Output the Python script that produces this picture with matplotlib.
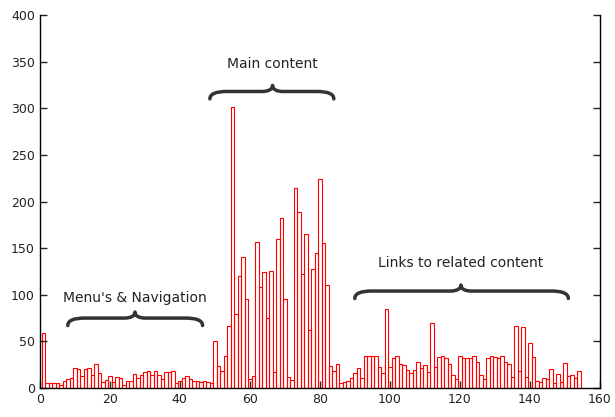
import matplotlib
matplotlib.use("Agg")
import matplotlib.pyplot as plt
import numpy as np
from matplotlib.path import Path
from matplotlib.patches import PathPatch

# bar heights, one per position 1..154
counts = [59, 5, 5, 5, 5, 3, 7, 10, 11, 21,
          20, 13, 20, 21, 14, 26, 16, 6, 9, 13,
          6, 12, 11, 3, 8, 8, 15, 11, 14, 17,
          18, 14, 18, 14, 10, 17, 17, 18, 5, 7,
          11, 13, 10, 7, 7, 6, 7, 6, 5, 50,
          24, 18, 34, 66, 301, 79, 120, 140, 95, 10,
          13, 157, 108, 124, 75, 126, 17, 160, 182, 95,
          12, 9, 214, 189, 122, 165, 62, 128, 145, 224,
          156, 110, 24, 18, 26, 5, 6, 8, 11, 16,
          21, 11, 34, 34, 34, 34, 23, 16, 85, 23,
          32, 34, 26, 25, 19, 16, 19, 28, 22, 25,
          17, 70, 23, 33, 34, 32, 26, 14, 10, 34,
          32, 32, 32, 34, 28, 14, 10, 32, 34, 33,
          32, 34, 28, 26, 12, 66, 18, 65, 12, 48,
          33, 7, 6, 11, 10, 20, 5, 15, 6, 27,
          13, 14, 11, 18]
positions = np.arange(1, len(counts) + 1)

# annotation labels with brace span (x0, x1, tip x, body y) and text position
labels = ["Menu's & Navigation", "Main content", "Links to related content"]
brace_spans = [(8, 46.5, 27.2, 75), (48.6, 84, 66.5, 318), (90, 151, 120.3, 104)]
label_pos = [(27.2, 97), (66.5, 348), (120.3, 134)]


def brace(ax, x0, x1, xm, ym, drop=8.0, rise=6.5, qe=5.0, qt=3.0):
    # curly brace opening downwards, tip pointing up
    y0 = ym - drop
    yt = ym + rise
    verts = [(x0, y0),
             (x0, y0 + drop * 0.7), (x0 + qe * 0.35, ym), (x0 + qe, ym),
             (xm - qt, ym),
             (xm - qt * 0.45, ym), (xm, ym + rise * 0.3), (xm, yt),
             (xm, ym + rise * 0.3), (xm + qt * 0.45, ym), (xm + qt, ym),
             (x1 - qe, ym),
             (x1 - qe * 0.35, ym), (x1, y0 + drop * 0.7), (x1, y0)]
    codes = [Path.MOVETO,
             Path.CURVE4, Path.CURVE4, Path.CURVE4,
             Path.LINETO,
             Path.CURVE4, Path.CURVE4, Path.CURVE4,
             Path.CURVE4, Path.CURVE4, Path.CURVE4,
             Path.LINETO,
             Path.CURVE4, Path.CURVE4, Path.CURVE4]
    ax.add_patch(PathPatch(Path(verts, codes), facecolor='none',
                           edgecolor='#333333', linewidth=2.5,
                           capstyle='round', joinstyle='round'))


fig = plt.figure(figsize=(6.15, 4.17), dpi=100)
ax = fig.add_axes([0.0647, 0.0695, 0.9106, 0.8945])

ax.bar(positions, counts, width=1.0, fill=False, edgecolor='#ff0000',
       linewidth=0.8)

for (x0, x1, xm, y), text, (tx, ty) in zip(brace_spans, labels, label_pos):
    brace(ax, x0, x1, xm, y)
    ax.text(tx, ty, text, ha='center', va='center', fontsize=10,
            color='#222222')

ax.set_xlim(0, 160)
ax.set_ylim(0, 400)
ax.set_xticks(np.arange(0, 161, 20))
ax.set_yticks(np.arange(0, 401, 50))
ax.tick_params(direction='in', length=5, width=1, labelsize=9,
               top=False, right=True, colors='#222222')
for s in ax.spines.values():
    s.set_linewidth(1)
ax.spines['top'].set_visible(False)

fig.savefig('out.png', dpi=100)
